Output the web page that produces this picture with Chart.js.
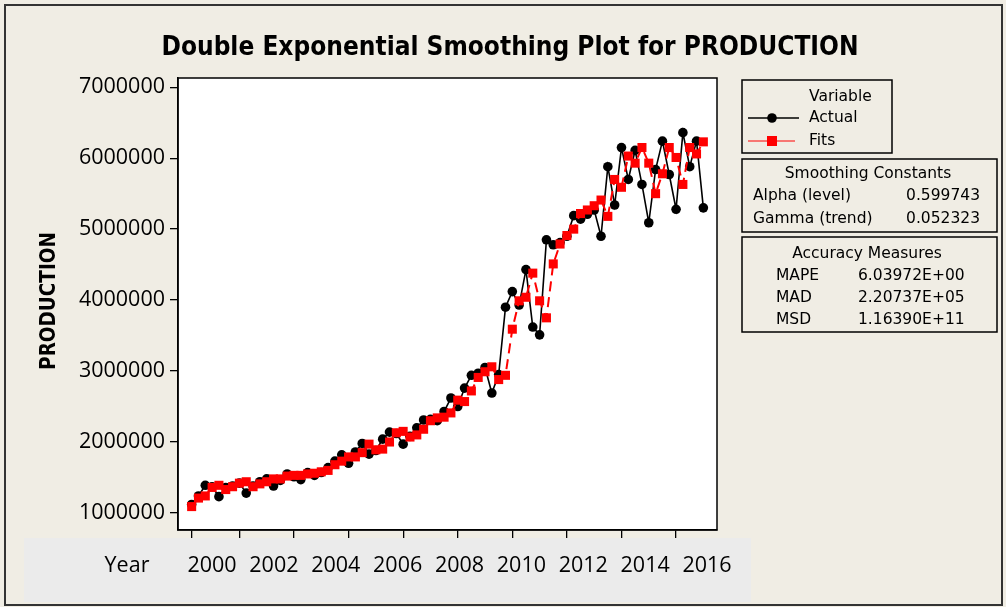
<!DOCTYPE html>
<html>
<head>
<meta charset="utf-8">
<script src="https://cdn.jsdelivr.net/npm/chart.js@4.4.1/dist/chart.umd.min.js"></script>
<style>
  html, body { margin: 0; padding: 0; background: #f0ede4; }
  #wrap { width: 1006px; height: 607px; }
</style>
</head>
<body>
<div id="wrap"><canvas id="chart" width="1006" height="607"></canvas></div>
<script>
// quarterly production
const actual = [
  1120000, 1240000, 1390000, 1370000, 1230000, 1360000, 1380000, 1420000, 1280000, 1380000,
  1440000, 1480000, 1380000, 1460000, 1550000, 1510000, 1470000, 1570000, 1530000, 1570000,
  1640000, 1730000, 1820000, 1700000, 1860000, 1980000, 1830000, 1880000, 2040000, 2140000,
  2120000, 1970000, 2080000, 2200000, 2310000, 2320000, 2300000, 2430000, 2620000, 2500000,
  2760000, 2940000, 2970000, 3050000, 2690000, 2950000, 3900000, 4120000, 3930000, 4430000,
  3620000, 3510000, 4850000, 4780000, 4810000, 4900000, 5190000, 5140000, 5210000, 5270000,
  4900000, 5880000, 5340000, 6150000, 5700000, 6110000, 5630000, 5090000, 5840000, 6240000,
  5770000, 5280000, 6360000, 5880000, 6240000, 5300000
];
const fits = [
  1090000, 1210000, 1240000, 1360000, 1390000, 1330000, 1370000, 1420000, 1440000, 1370000,
  1410000, 1440000, 1480000, 1480000, 1520000, 1530000, 1530000, 1550000, 1560000, 1580000,
  1600000, 1680000, 1730000, 1790000, 1790000, 1850000, 1970000, 1890000, 1900000, 2000000,
  2130000, 2150000, 2070000, 2100000, 2180000, 2300000, 2340000, 2350000, 2410000, 2590000,
  2570000, 2720000, 2910000, 2990000, 3060000, 2880000, 2940000, 3590000, 3990000, 4040000,
  4380000, 3990000, 3750000, 4510000, 4790000, 4910000, 5000000, 5220000, 5270000, 5330000,
  5410000, 5180000, 5700000, 5590000, 6030000, 5930000, 6150000, 5930000, 5500000, 5780000,
  6150000, 6010000, 5630000, 6150000, 6060000, 6230000
];
const xTickIdx = [0, 7, 15, 23, 31, 39, 47, 55, 63, 71];
const yTicks = [1000000, 2000000, 3000000, 4000000, 5000000, 6000000, 7000000];
const yearLabels = ["2000", "2002", "2004", "2006", "2008", "2010", "2012", "2014", "2016"];
const smoothing = [["Alpha (level)", "0.599743"], ["Gamma (trend)", "0.052323"]];
const accuracy = [["MAPE", "6.03972E+00"], ["MAD", "2.20737E+05"], ["MSD", "1.16390E+11"]];

const COND = '"DejaVu Sans Condensed", "DejaVu Sans", sans-serif';
const LABEL = '"Open Sans", "Liberation Sans", sans-serif';
const TAHOMA = '"DejaVu Sans", sans-serif';

const backdrop = {
  id: 'backdrop',
  beforeDraw(chart) {
    const c = chart.ctx, a = chart.chartArea;
    c.save();
    c.fillStyle = '#f0ede4';
    c.fillRect(0, 0, chart.width, chart.height);
    c.fillStyle = '#ebebeb';
    c.fillRect(24, 538, 727, 64);
    c.fillStyle = '#ffffff';
    c.fillRect(a.left, a.top, a.right - a.left, a.bottom - a.top);
    c.strokeStyle = '#333';
    c.lineWidth = 2;
    c.strokeRect(5, 5, 997, 600);
    c.restore();
  }
};

function box(c, x, y, w, h) {
  c.lineWidth = 1.5;
  c.strokeStyle = '#000';
  c.strokeRect(x, y, w, h);
}

const annotations = {
  id: 'annotations',
  afterDraw(chart) {
    const c = chart.ctx, a = chart.chartArea;
    c.save();
    // plot frame
    c.strokeStyle = '#000';
    c.lineWidth = 1.5;
    c.strokeRect(a.left, a.top, a.right - a.left, a.bottom - a.top);

    c.fillStyle = '#000';
    c.textBaseline = 'middle';
    c.textAlign = 'center';
    c.font = 'bold 26px ' + COND;
    c.fillText('Double Exponential Smoothing Plot for PRODUCTION', 510, 48);

    c.save();
    c.translate(50, 301);
    c.rotate(-Math.PI / 2);
    c.font = 'bold 20.5px ' + COND;
    c.fillText('PRODUCTION', 0, 0);
    c.restore();

    // year strip
    c.font = '21.5px ' + LABEL;
    c.fillText('Year', 127, 566);
    const x0 = 212, x1 = 707;
    yearLabels.forEach((t, i) => {
      c.fillText(t, x0 + (x1 - x0) * i / (yearLabels.length - 1), 566);
    });

    // legend: variables
    box(c, 742, 80, 150, 73);
    c.font = '15.5px ' + TAHOMA;
    c.textAlign = 'left';
    c.fillText('Variable', 809, 97);
    c.fillText('Actual', 809, 118);
    c.fillText('Fits', 809, 141);
    c.beginPath();
    c.lineWidth = 1.5;
    c.moveTo(748, 118); c.lineTo(799, 118);
    c.stroke();
    c.beginPath();
    c.arc(772, 118, 4.8, 0, Math.PI * 2);
    c.fill();
    c.strokeStyle = '#ff0000';
    c.lineWidth = 1;
    c.beginPath();
    c.moveTo(748, 141); c.lineTo(795, 141);
    c.stroke();
    c.fillStyle = '#ff0000';
    c.fillRect(767, 136, 10, 10);

    // smoothing constants
    c.fillStyle = '#000';
    box(c, 742, 159, 255, 73);
    c.textAlign = 'center';
    c.fillText('Smoothing Constants', 868, 174);
    smoothing.forEach((r, i) => {
      c.textAlign = 'left';
      c.fillText(r[0], 753, 196 + i * 23);
      c.textAlign = 'right';
      c.fillText(r[1], 980, 196 + i * 23);
    });

    // accuracy measures
    box(c, 742, 237, 255, 95);
    c.textAlign = 'center';
    c.fillText('Accuracy Measures', 867, 254);
    c.textAlign = 'left';
    accuracy.forEach((r, i) => {
      c.fillText(r[0], 776, 276 + i * 22);
      c.fillText(r[1], 858, 276 + i * 22);
    });
    c.restore();
  }
};

const ctx = document.getElementById('chart').getContext('2d');

new Chart(ctx, {
  type: 'line',
  data: {
    datasets: [
      {
        label: 'Fits',
        data: fits.map((v, i) => ({ x: i, y: v })),
        borderColor: '#ff0000',
        backgroundColor: '#ff0000',
        borderWidth: 2,
        borderDash: [10, 6],
        pointStyle: 'rect',
        pointRadius: 6.4,
        pointBorderWidth: 0,
        order: 0
      },
      {
        label: 'Actual',
        data: actual.map((v, i) => ({ x: i, y: v })),
        borderColor: '#000',
        backgroundColor: '#000',
        borderWidth: 1.6,
        pointRadius: 4.8,
        pointBorderWidth: 0,
        order: 1
      }
    ]
  },
  options: {
    responsive: false,
    animation: false,
    events: [],
    layout: { padding: { top: 78, right: 289, bottom: 0, left: 0 } },
    plugins: { legend: { display: false }, tooltip: { enabled: false } },
    scales: {
      x: {
        type: 'linear',
        min: -2,
        max: 77,
        afterBuildTicks: s => { s.ticks = xTickIdx.map(v => ({ value: v })); },
        afterFit: s => { s.height = 77; },
        ticks: { display: false },
        grid: { drawOnChartArea: false, drawTicks: true, tickLength: 8, color: '#000', lineWidth: 1.3 },
        border: { display: true, color: '#000', width: 1.5 }
      },
      y: {
        type: 'linear',
        min: 760000,
        max: 7130000,
        afterBuildTicks: s => { s.ticks = yTicks.map(v => ({ value: v })); },
        afterFit: s => { s.width = 178; },
        ticks: {
          color: '#000',
          padding: 5,
          font: { family: LABEL, size: 21.5 },
          callback: v => String(v)
        },
        grid: { drawOnChartArea: false, drawTicks: true, tickLength: 8, color: '#000', lineWidth: 1.3 },
        border: { display: true, color: '#000', width: 1.5 }
      }
    }
  },
  plugins: [backdrop, annotations]
});
</script>
</body>
</html>
